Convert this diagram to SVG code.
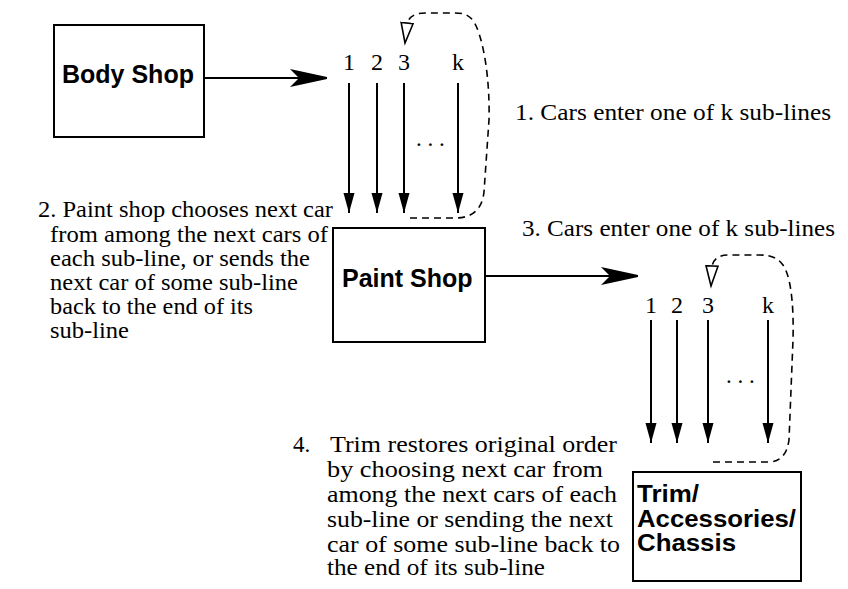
<svg xmlns="http://www.w3.org/2000/svg" width="848" height="589" viewBox="0 0 848 589">
<style>
  .box { fill: #fff; stroke: #000; stroke-width: 2; }
  .lbl { font-family: "Liberation Sans", Arial, sans-serif; font-weight: bold; font-size: 25px; fill: #000; }
  .lbl2 { font-family: "Liberation Sans", Arial, sans-serif; font-weight: bold; font-size: 23px; fill: #000; }
  .txt { font-family: "Liberation Serif", "Times New Roman", serif; font-size: 23px; fill: #000; }
  .num { font-family: "Liberation Serif", "Times New Roman", serif; font-size: 24px; fill: #000; text-anchor: middle; }
  .flow { fill: none; stroke: #000; stroke-width: 2; marker-end: url(#bigArrow); }
  .sub { fill: none; stroke: #000; stroke-width: 2; marker-end: url(#vArrow); }
  .loop { fill: none; stroke: #000; stroke-width: 1.6; stroke-dasharray: 7 5; marker-end: url(#openArrow); }
</style>
<defs>
  <marker id="bigArrow" markerUnits="userSpaceOnUse" markerWidth="40" markerHeight="20" refX="37" refY="9" orient="auto">
    <path d="M0,0 L37,8 L37,10 L0,18 L9,9 Z" fill="#000"/>
  </marker>
  <marker id="vArrow" markerUnits="userSpaceOnUse" markerWidth="22" markerHeight="12" refX="20" refY="5.5" orient="auto">
    <path d="M0,0 L20,5.5 L0,11 Z" fill="#000"/>
  </marker>
  <marker id="openArrow" markerUnits="userSpaceOnUse" markerWidth="24" markerHeight="16" refX="21" refY="7" orient="auto">
    <path d="M1,1 L21,7 L1,13 Z" fill="#fff" stroke="#000" stroke-width="1.6"/>
  </marker>
</defs>

<g id="body-shop">
  <rect class="box" x="54" y="25" width="150" height="112"/>
  <text class="lbl" x="62" y="83">Body Shop</text>
</g>

<g id="paint-shop">
  <rect class="box" x="333" y="228" width="152" height="114"/>
  <text class="lbl" x="342" y="287">Paint Shop</text>
</g>

<g id="trim">
  <rect class="box" x="633" y="472" width="168" height="109"/>
  <text class="lbl2" x="637" y="502" textLength="62" lengthAdjust="spacingAndGlyphs">Trim/</text>
  <text class="lbl2" x="637" y="527" textLength="159" lengthAdjust="spacingAndGlyphs">Accessories/</text>
  <text class="lbl2" x="637" y="551" textLength="99" lengthAdjust="spacingAndGlyphs">Chassis</text>
</g>

<g id="sublines-1">
  <text class="num" x="349" y="70">1</text>
  <text class="num" x="377" y="70">2</text>
  <text class="num" x="404" y="70">3</text>
  <text class="num" x="458" y="70">k</text>
  <text class="txt" x="416" y="146">. . .</text>
</g>

<g id="sublines-2">
  <text class="num" x="651" y="313">1</text>
  <text class="num" x="677" y="313">2</text>
  <text class="num" x="708" y="313">3</text>
  <text class="num" x="768" y="313">k</text>
  <text class="txt" x="726" y="383">. . .</text>
</g>

<g id="connectors">
  <line class="flow" x1="204" y1="78" x2="327" y2="78"/>
  <line class="flow" x1="485" y1="276" x2="638" y2="276"/>

  <line class="sub" x1="349" y1="83" x2="349" y2="213"/>
  <line class="sub" x1="377" y1="83" x2="377" y2="213"/>
  <line class="sub" x1="404" y1="83" x2="404" y2="213"/>
  <line class="sub" x1="458" y1="83" x2="458" y2="213"/>

  <line class="sub" x1="651" y1="320" x2="651" y2="443"/>
  <line class="sub" x1="677" y1="320" x2="677" y2="443"/>
  <line class="sub" x1="708" y1="320" x2="708" y2="443"/>
  <line class="sub" x1="768" y1="320" x2="768" y2="443"/>

  <path class="loop" d="M 410 218 H 455 C 472 218 482 210 484 192 L 489 120 C 490 80 484 45 477 28 C 472 16 466 13 455 13 H 425 C 416 13 409 16 407 24 L 405 43"/>
  <path class="loop" d="M 713 462 H 768 C 781 462 787 454 789 440 L 793 340 C 794 300 790 275 783 265 C 778 258 771 255 760 255 H 728 C 720 255 714 258 712 266 L 711 286"/>
</g>

<g id="notes">
  <text class="txt" x="515" y="120" textLength="316" lengthAdjust="spacingAndGlyphs">1. Cars enter one of k sub-lines</text>
  <text class="txt" x="38" y="217" textLength="295" lengthAdjust="spacingAndGlyphs">2. Paint shop chooses next car</text>
  <text class="txt" x="50" y="242" textLength="278" lengthAdjust="spacingAndGlyphs">from among the next cars of</text>
  <text class="txt" x="50" y="266" textLength="260" lengthAdjust="spacingAndGlyphs">each sub-line, or sends the</text>
  <text class="txt" x="50" y="290" textLength="248" lengthAdjust="spacingAndGlyphs">next car of some sub-line</text>
  <text class="txt" x="50" y="314" textLength="203" lengthAdjust="spacingAndGlyphs">back to the end of its</text>
  <text class="txt" x="50" y="338" textLength="79" lengthAdjust="spacingAndGlyphs">sub-line</text>
  <text class="txt" x="522" y="236" textLength="313" lengthAdjust="spacingAndGlyphs">3. Cars enter one of k sub-lines</text>
  <text class="txt" x="293" y="452">4.</text>
  <text class="txt" x="330" y="452" textLength="287" lengthAdjust="spacingAndGlyphs">Trim restores original order</text>
  <text class="txt" x="327" y="477" textLength="276" lengthAdjust="spacingAndGlyphs">by choosing next car from</text>
  <text class="txt" x="327" y="502" textLength="290" lengthAdjust="spacingAndGlyphs">among the next cars of each</text>
  <text class="txt" x="327" y="527" textLength="286" lengthAdjust="spacingAndGlyphs">sub-line or sending the next</text>
  <text class="txt" x="327" y="552" textLength="293" lengthAdjust="spacingAndGlyphs">car of some sub-line back to</text>
  <text class="txt" x="327" y="575" textLength="218" lengthAdjust="spacingAndGlyphs">the end of its sub-line</text>
</g>
</svg>
